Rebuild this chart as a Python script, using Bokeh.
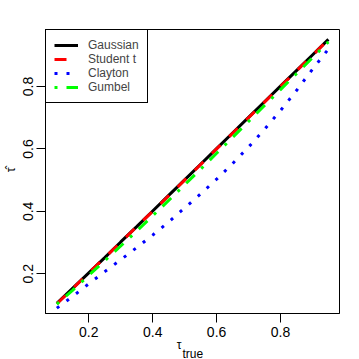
from bokeh.plotting import figure
from bokeh.models import Range1d, FixedTicker, Legend, LegendItem, Title
from bokeh.embed import file_html
from bokeh.resources import INLINE

# ---- data ----
tau_true = [0.10, 0.15, 0.20, 0.25, 0.30, 0.35, 0.40, 0.45, 0.50,
            0.55, 0.60, 0.65, 0.70, 0.75, 0.80, 0.85, 0.90, 0.95]
gaussian = [0.105, 0.154, 0.203, 0.252, 0.302, 0.351, 0.401, 0.451, 0.501,
            0.551, 0.601, 0.651, 0.701, 0.751, 0.801, 0.851, 0.901, 0.951]
student_t = [0.104, 0.153, 0.203, 0.252, 0.301, 0.351, 0.400, 0.450, 0.500,
             0.550, 0.600, 0.650, 0.700, 0.750, 0.800, 0.850, 0.900, 0.950]
clayton = [0.090, 0.128, 0.168, 0.207, 0.245, 0.284, 0.324, 0.366, 0.411,
           0.456, 0.503, 0.553, 0.606, 0.663, 0.723, 0.787, 0.855, 0.920]
gumbel = [0.103, 0.148, 0.195, 0.242, 0.289, 0.337, 0.386, 0.435, 0.485,
          0.535, 0.586, 0.637, 0.688, 0.739, 0.790, 0.841, 0.892, 0.943]
series_names = ["Gaussian", "Student t", "Clayton", "Gumbel"]
x_ticks = [0.2, 0.4, 0.6, 0.8]
y_ticks = [0.2, 0.4, 0.6, 0.8]

FONT = "Liberation Sans"
NBSP = "\u00a0"

p = figure(width=359, height=359, output_backend="svg", toolbar_location=None,
           x_range=Range1d(0.0645, 0.9847), y_range=Range1d(0.0728, 0.9826),
           min_border_left=45, min_border_right=20, min_border_top=29,
           min_border_bottom=46)
p.grid.visible = False
p.outline_line_color = "black"
p.outline_line_alpha = 1.0
p.outline_line_width = 1
p.background_fill_color = "white"
p.border_fill_color = "white"

for ax, ticks in ((p.xaxis, x_ticks), (p.yaxis, y_ticks)):
    ax.ticker = FixedTicker(ticks=ticks)
    ax.major_tick_out = 9
    ax.major_tick_in = 0
    ax.minor_tick_line_color = None
    ax.axis_line_color = "black"
    ax.major_tick_line_color = "black"
    ax.major_label_text_font = FONT
    ax.major_label_text_font_size = "14px"
    ax.major_label_text_color = "black"
    ax.major_label_standoff = 4
    ax.axis_label_text_font = FONT
    ax.axis_label_text_font_style = "normal"
    ax.axis_label_text_font_size = "12px"
    ax.axis_label_text_color = "black"
p.yaxis.major_label_orientation = "vertical"
p.yaxis.major_label_standoff = 3
p.yaxis.axis_label = NBSP + "τ\u0302"
p.yaxis.axis_label_standoff = 3
p.xaxis.axis_label = "τ" + NBSP * 8
p.xaxis.axis_label_standoff = -2

# subscript of the x-axis title
p.add_layout(Title(text="true", align="left", offset=137, standoff=-16,
                   vertical_align="top", text_font=FONT, text_font_style="normal",
                   text_font_size="12px", text_color="black"), "below")

styles = [("black", "solid"), ("red", "12 12"), ("blue", "3 9"), ("#00FF00", "3 9 12 9")]
series = [gaussian, student_t, clayton, gumbel]
items = []
for name, ys, (col, dash) in zip(series_names, series, styles):
    r = p.line(tau_true, ys, line_color=col, line_width=3, line_dash=dash)
    items.append(LegendItem(label=name, renderers=[r]))

legend = Legend(items=items, location="top_left", margin=0, padding=8, spacing=0,
                label_height=14, glyph_height=14, glyph_width=24, label_standoff=10,
                label_text_font=FONT, label_text_font_size="12px",
                border_line_color="black", border_line_width=1, border_line_alpha=1.0,
                background_fill_color="white", background_fill_alpha=1.0)
p.add_layout(legend)

open("out.html", "w").write(file_html(p, INLINE))
